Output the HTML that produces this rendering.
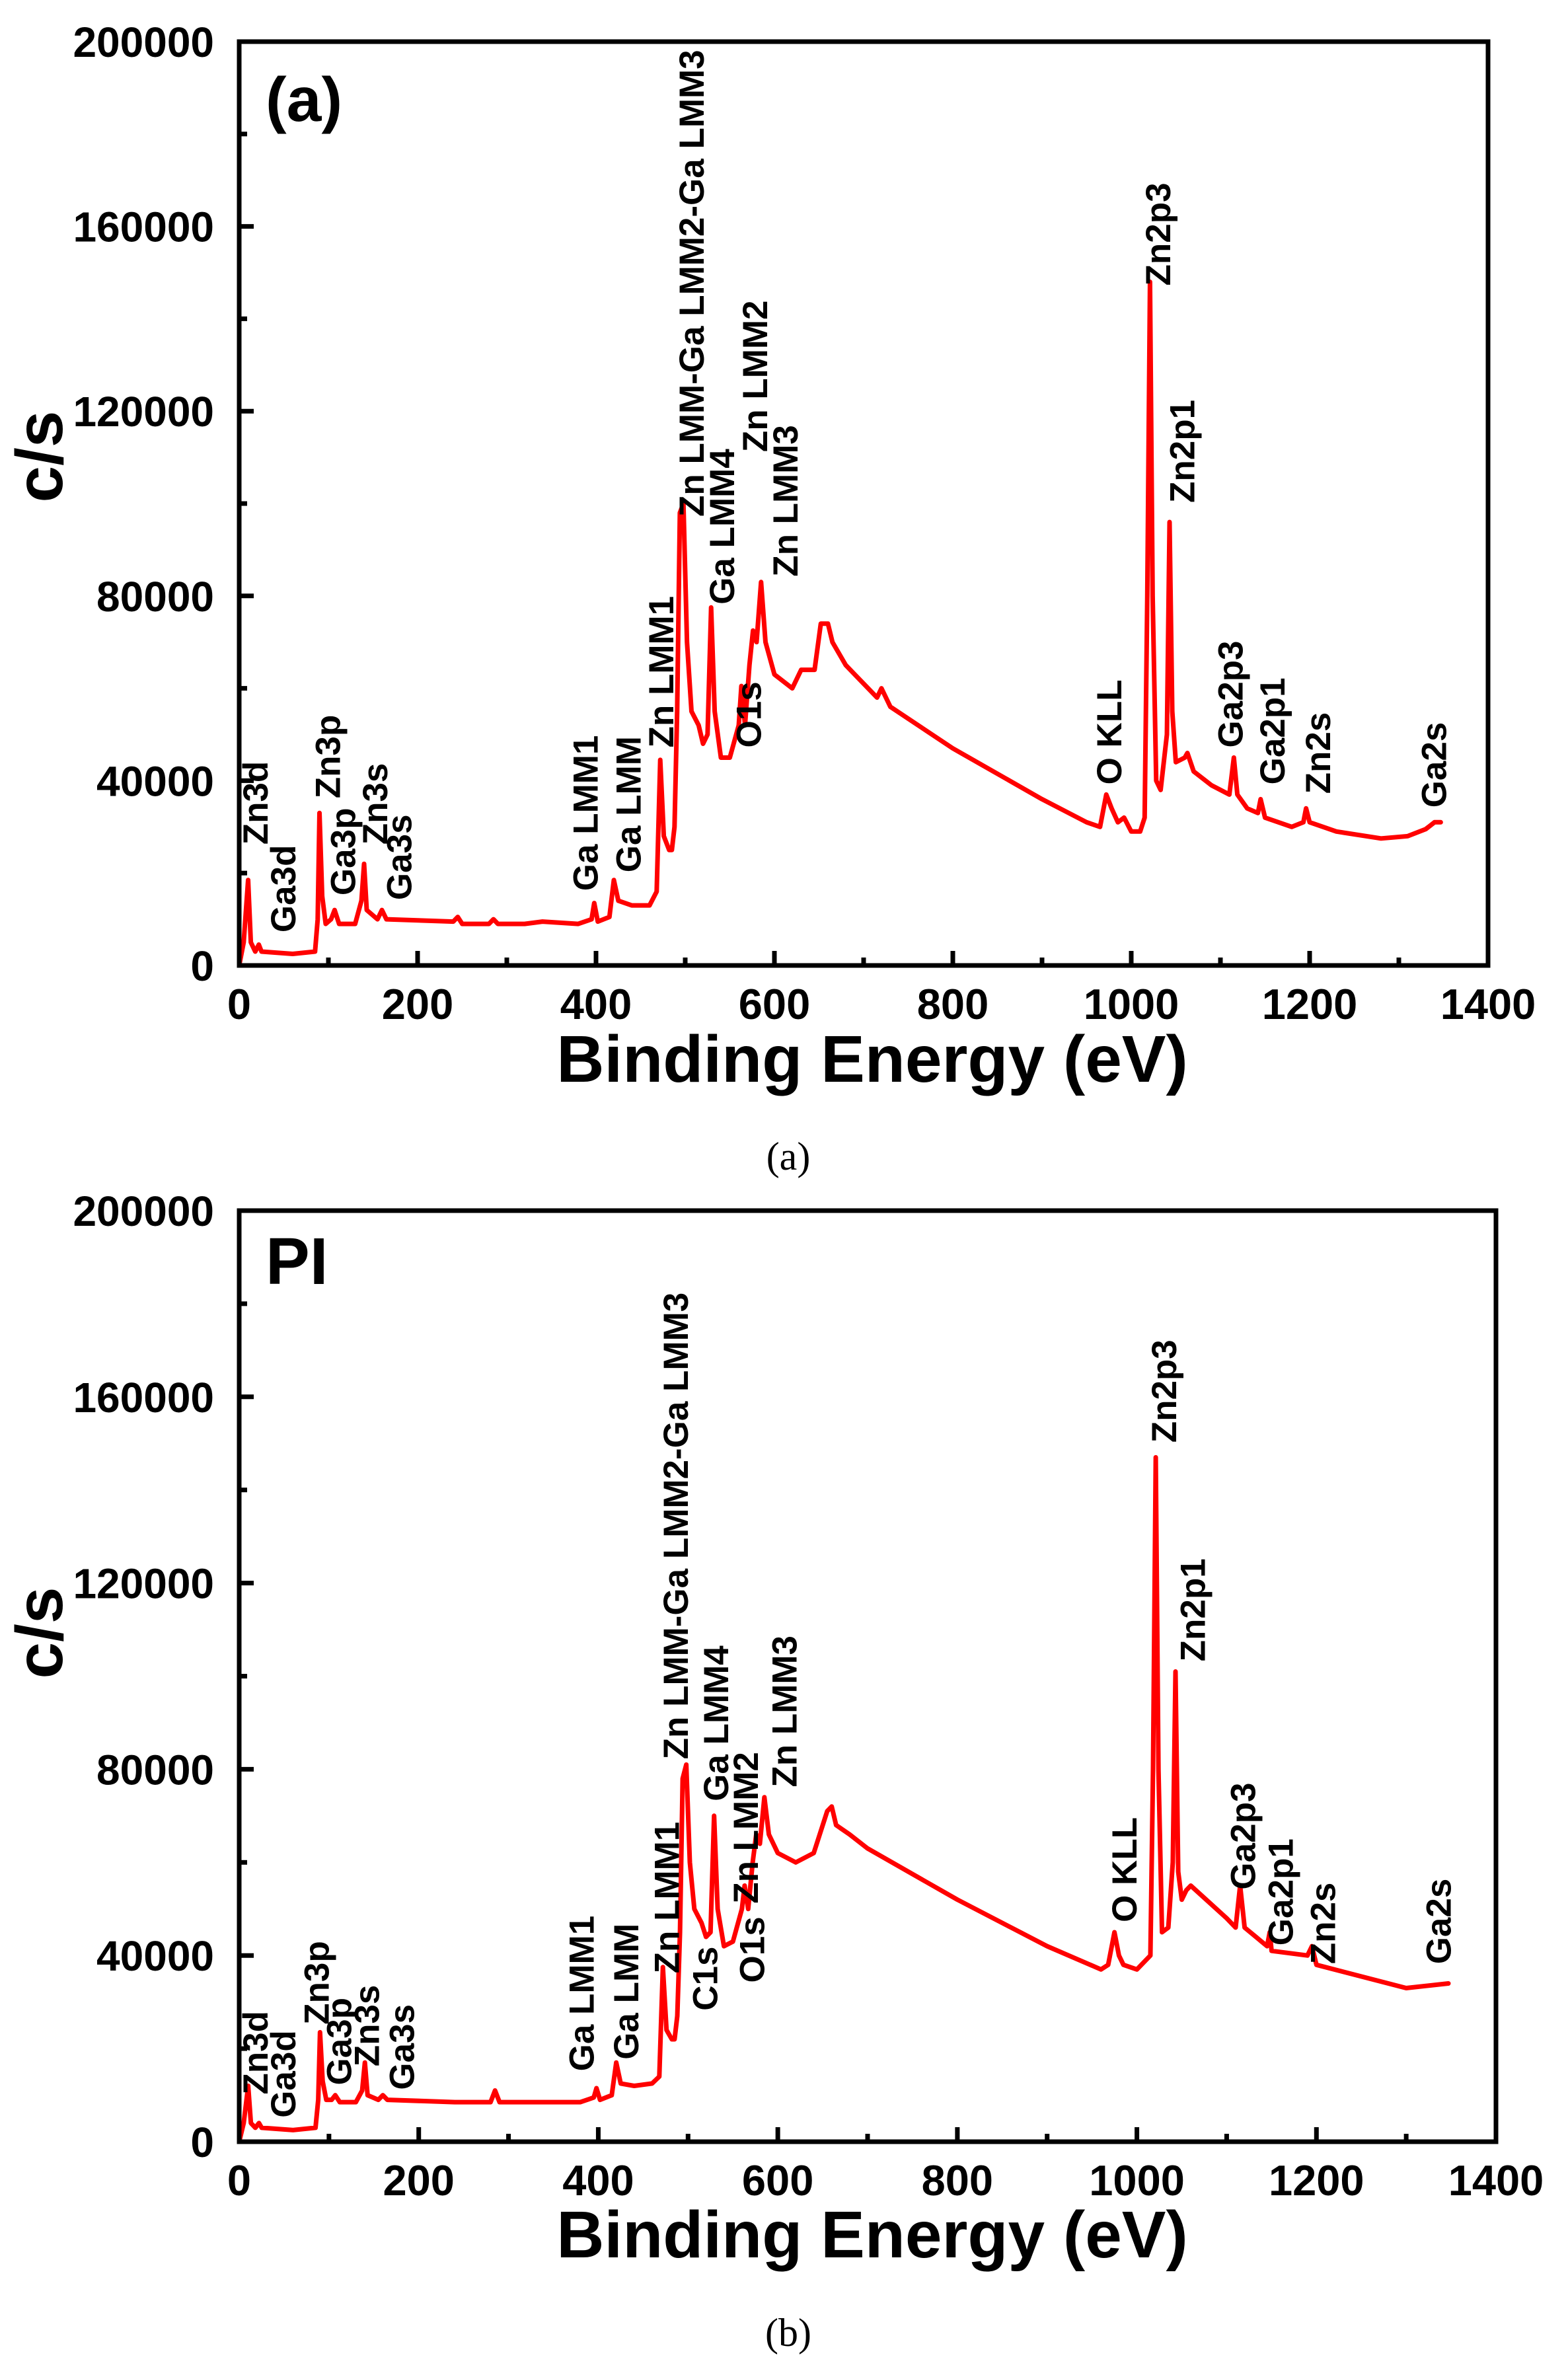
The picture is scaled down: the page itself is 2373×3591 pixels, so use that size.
<!DOCTYPE html>
<html><head><meta charset="utf-8"><style>
html,body{margin:0;padding:0;background:#fff;}
svg{display:block;}
text{font-family:"Liberation Sans",Arial,sans-serif;font-weight:bold;fill:#000;}
.cap{font-family:"Liberation Serif",serif;font-weight:normal;}
</style></head><body>
<svg id="fig" width="2373" height="3591" viewBox="0 0 2373 3591" xmlns="http://www.w3.org/2000/svg"></svg>
<script>
const xTicks=[0,200,400,600,800,1000,1200,1400];
const yTicks=[0,40000,80000,120000,160000,200000];
const yTickLabels=["0","40000","80000","120000","160000","200000"];
const energyA=[0,5,10,13,18,22,25,60,85,88,90,93,97,103,107,112,130,137,140,143,155,160,165,240,245,250,280,285,290,320,340,380,395,398,402,415,420,425,440,460,468,472,476,482,485,488,491,494,498,502,507,515,520,525,529,533,540,550,560,563,567,572,576,580,585,590,600,620,630,645,652,660,665,680,700,715,720,730,800,900,950,965,972,978,985,992,1000,1010,1015,1018,1021,1024,1028,1033,1040,1043,1046,1050,1060,1063,1070,1090,1110,1115,1119,1130,1142,1145,1150,1180,1193,1196,1200,1230,1280,1310,1330,1340,1347];
const countsA=[0,5000,18500,5000,3000,4500,3000,2500,3000,10000,33000,15000,9000,10000,12000,9000,9000,14000,22000,12000,10000,12000,10000,9500,10500,9000,9000,10000,9000,9000,9500,9000,10000,13500,9500,10500,18500,14000,13000,13000,16000,44500,28000,25000,25000,30000,55000,98000,100000,70000,55000,52000,48000,50000,77500,55000,45000,45000,52000,60500,52000,65000,72500,70000,83000,70000,63000,60000,64000,64000,74000,74000,70000,65000,61000,58000,60000,56000,47000,36000,31000,30000,37000,34000,31000,32000,29000,29000,32000,80000,148000,80000,40000,38000,50000,96000,55000,44000,45000,46000,42000,39000,37000,45000,37000,34000,33000,36000,32000,30000,31000,34000,31000,29000,27500,28000,29500,31000,31000];
const energyB=[0,5,10,13,18,22,25,60,85,88,90,93,97,103,107,112,130,137,140,143,155,160,165,240,280,285,290,320,380,395,398,402,415,420,425,440,460,468,472,476,482,485,488,491,494,498,502,507,515,520,525,529,533,540,550,560,563,567,572,576,580,585,590,600,620,640,655,660,665,680,700,800,900,960,968,975,980,985,1000,1015,1018,1021,1024,1028,1035,1040,1043,1046,1050,1055,1060,1100,1110,1115,1120,1145,1148,1150,1190,1195,1200,1300,1347];
const countsB=[0,4000,12000,4000,3000,4000,3000,2500,3000,9000,23500,13000,9000,9000,10000,8500,8500,11000,17000,10000,9000,10000,9000,8500,8500,11000,8500,8500,8500,9500,11500,9000,10000,17000,12500,12000,12500,14000,37500,24000,22000,22000,27000,45000,78000,81000,60000,50000,47000,44000,45000,70000,50000,42000,43000,50000,55000,50000,60000,66000,64000,74000,66000,62000,60000,62000,71000,72000,68000,66000,63000,52000,42000,37000,38000,45000,40000,38000,37000,40000,80000,147000,80000,45000,46000,60000,101000,58000,52000,54000,55000,48000,46000,55000,46000,42000,45000,41000,40000,42000,38000,33000,34000];
const labelsA=["Zn3d","Ga3d","Zn3p","Ga3p","Zn3s","Ga3s","Ga LMM1","Ga LMM","Zn LMM1","Zn LMM-Ga LMM2-Ga LMM3","Ga LMM4","Zn LMM2","Zn LMM3","O1s","O KLL","Zn2p3","Zn2p1","Ga2p3","Ga2p1","Zn2s","Ga2s"];
const labelEvA=[17,48,98,115,151,178,387,435,472,506,540,577,611,570,974,1029,1056,1110,1157,1208,1338];
const labelCountA=[25000,6000,35000,14000,25000,13000,15000,19000,46000,96000,77000,110000,83000,46000,38000,146000,99000,46000,38000,36000,33000];
const labelsB=["Zn3d","Ga3d","Zn3p","Ga3p","Zn3s","Ga3s","Ga LMM1","Ga LMM","Zn LMM1","C1s","Zn LMM-Ga LMM2-Ga LMM3","Ga LMM4","Zn LMM2","O1s","Zn LMM3","O KLL","Zn2p3","Zn2p1","Ga2p3","Ga2p1","Zn2s","Ga2s"];
const labelEvB=[17,48,85,110,141,180,380,430,475,518,485,530,563,570,606,985,1029,1061,1117,1159,1206,1335];
const labelCountB=[9000,4000,24000,11000,15000,10000,14000,16500,35000,27000,81000,72000,50000,33000,75000,46000,149000,102000,53000,41000,37000,37000];

const NS="http://www.w3.org/2000/svg";
const svg=document.getElementById('fig');
function el(tag,attrs,parent){const e=document.createElementNS(NS,tag);for(const k in attrs)e.setAttribute(k,attrs[k]);(parent||svg).appendChild(e);return e;}

function panel(cfg){
  const g=el('g',{});
  
  
  const L=cfg.left,R=cfg.right,T=cfg.top,B=cfg.bottom;
  const sx=v=>L+(v-0)/1400*(R-L);
  const sy=v=>B-v/200000*(B-T);
  let d='';
  cfg.energy.forEach((e,i)=>{d+=(i?'L':'M')+sx(e).toFixed(1)+','+sy(cfg.counts[i]).toFixed(1);});
  const line=el('path',{d:d,fill:'none',stroke:'#ff0000','stroke-width':7,'stroke-linejoin':'round','stroke-linecap':'round'},g);
  
  
  const fr=el('rect',{x:L,y:T,width:R-L,height:B-T,fill:'none',stroke:'#000','stroke-width':7},g);
  
  
  xTicks.forEach(v=>{
    const x=sx(v);
    el('line',{x1:x,y1:B,x2:x,y2:B-22,stroke:'#000','stroke-width':7},g);
    if(v<1400){const xm=sx(v+100);el('line',{x1:xm,y1:B,x2:xm,y2:B-12,stroke:'#000','stroke-width':7},g);}
    const t=el('text',{x:x,y:B+81,'text-anchor':'middle','font-size':65},g);
    t.textContent=String(v);
    
    
  });
  yTicks.forEach((v,i)=>{
    const y=sy(v);
    el('line',{x1:L,y1:y,x2:L+22,y2:y,stroke:'#000','stroke-width':7},g);
    if(i<yTicks.length-1){const ym=sy(v+20000);el('line',{x1:L,y1:ym,x2:L+12,y2:ym,stroke:'#000','stroke-width':7},g);}
    const t=el('text',{x:L-38,y:y+23,'text-anchor':'end','font-size':64},g);
    t.textContent=yTickLabels[i];
    
    
  });
  const xt=el('text',{x:1320,y:B+cfg.xtDy,'text-anchor':'middle','font-size':100},g);
  xt.textContent='Binding Energy (eV)';
  
  
  const yc=B-770;
  const yt=el('text',{x:0,y:0,'text-anchor':'middle','font-size':100,transform:`translate(94,${yc}) rotate(-90)`},g);
  yt.textContent='c/s';
  
  
  const pt=el('text',{x:L+40,y:T+cfg.tagDy,'font-size':cfg.tagSize},g);
  pt.textContent=cfg.tag;
  
  
  cfg.labels.forEach((s,i)=>{
    const x=sx(cfg.labEv[i])+20, y=sy(cfg.labCt[i])-8;
    const t=el('text',{x:0,y:0,'font-size':53,transform:`translate(${x.toFixed(1)},${y.toFixed(1)}) rotate(-90)`},g);
    t.textContent=s;
    
    
  });
  const c=el('text',{x:1193,y:cfg.capY,'text-anchor':'middle','font-size':60,'class':'cap'},g);
  c.textContent=cfg.caption;
  
  
}
panel({name:'panel-a',left:362,right:2252,top:63,bottom:1461,energy:energyA,counts:countsA,labels:labelsA,labEv:labelEvA,labCt:labelCountA,tag:'(a)',tagDy:120,tagSize:95,caption:'(a)',capY:1770,xtDy:176});
panel({name:'panel-b',left:362,right:2264,top:1832,bottom:3241,energy:energyB,counts:countsB,labels:labelsB,labEv:labelEvB,labCt:labelCountB,tag:'PI',tagDy:111,tagSize:100,caption:'(b)',capY:3550,xtDy:175});
</script>
</body></html>
